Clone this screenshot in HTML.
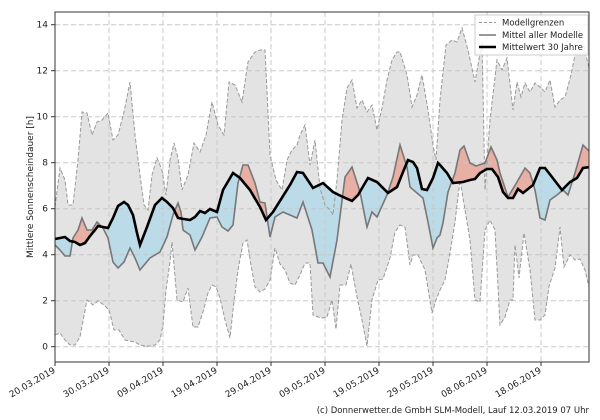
<!DOCTYPE html><html><head><meta charset="utf-8"><style>body{margin:0;background:#fff}svg{display:block;font-family:"DejaVu Sans","Liberation Sans",sans-serif}</style></head><body>
<svg id="s" width="600" height="420" viewBox="0 0 600 420" xmlns="http://www.w3.org/2000/svg">
<defs>
<clipPath id="plot"><rect x="55" y="12" width="534" height="350"/></clipPath>
<clipPath id="aboveClim"><path id="cA"/></clipPath>
<clipPath id="aboveMean"><path id="mA"/></clipPath>
</defs>
<g clip-path="url(#plot)">
<path id="band" fill="#e3e3e3"/>
<path id="red" fill="#e8b0a4" clip-path="url(#aboveClim)"/>
<path id="blue" fill="#bcdbe8" clip-path="url(#aboveMean)"/>
<g id="grid" stroke="#c8c8c8" stroke-dasharray="5,3" stroke-width="1"></g>
<path id="up" fill="none" stroke="#999" stroke-dasharray="4,2" stroke-width="1"/>
<path id="lo" fill="none" stroke="#999" stroke-dasharray="4,2" stroke-width="1"/>
<path id="mean" fill="none" stroke="#777" stroke-width="1.6"/>
<path id="clim" fill="none" stroke="#000" stroke-width="2.6"/>
</g>
<rect x="55" y="12" width="534" height="350" fill="none" stroke="#333" stroke-width="1"/>
<g id="ticks" font-size="9" fill="#222"></g>
<text transform="translate(33,187) rotate(-90)" font-size="9" text-anchor="middle" fill="#222">Mittlere Sonnenscheindauer [h]</text>
<g font-size="8.5" fill="#222">
<rect x="475" y="15" width="113" height="40" fill="#fff" fill-opacity="0.85" stroke="#ccc"/>
<line x1="479" y1="22.5" x2="496" y2="22.5" stroke="#999" stroke-dasharray="3,2"/>
<text x="502" y="25.5">Modellgrenzen</text>
<line x1="479" y1="35" x2="496" y2="35" stroke="#777" stroke-width="1.6"/>
<text x="502" y="38">Mittel aller Modelle</text>
<line x1="479" y1="47" x2="496" y2="47" stroke="#000" stroke-width="2.6"/>
<text x="502" y="50">Mittelwert 30 Jahre</text>
</g>
<text x="589" y="413" font-size="8.5" text-anchor="end" fill="#222">(c) Donnerwetter.de GmbH SLM-Modell, Lauf 12.03.2019 07 Uhr</text>
</svg>
<script>
function P(a){const r=[];for(let i=0;i<a.length;i+=2)r.push([a[i],a[i+1]]);return r}
const up=P([55,207,60,168,65,180,68,205,73,205,78,160,82,112,87,113,92,135,97,122,102,120,108,113,113,140,118,135,124,112,130,82,135,135,140,175,144,205,148,210,152,175,157,158,162,170,166,195,170,160,174,143,178,158,182,190,188,175,194,143,200,152,206,135,212,102,218,125,224,135,229,82,235,85,242,102,248,62,255,52,260,50,265,50,270,155,276,180,282,190,287,160,292,150,297,145,300,135,305,125,310,165,315,140,320,188,325,205,330,210,333,215,337,180,342,120,347,88,352,80,357,108,362,100,367,112,372,105,377,130,382,108,387,80,392,60,397,52,400,52,407,75,412,107,417,95,422,75,428,110,433,145,436,160,440,100,446,45,452,40,457,42,462,28,468,50,475,82,482,42,485,190,490,120,497,60,502,70,507,58,513,110,517,82,521,97,525,83,530,92,535,83,540,87,545,92,550,80,555,107,560,100,565,97,571,75,580,30,589,68]);
const lo=P([55,335,60,333,65,340,70,345,75,345,80,337,87,300,93,305,98,301,104,305,109,310,114,330,119,330,125,340,130,341,135,342,140,345,145,346,150,346,155,345,160,340,163,325,166,290,170,262,172,242,177,300,183,302,188,288,193,327,198,327,203,312,208,293,212,285,216,287,220,298,225,320,230,338,233,310,238,270,243,243,247,240,251,265,255,287,260,292,265,289,270,280,275,248,280,264,285,270,290,283,295,285,300,275,305,263,310,263,313,315,318,317,322,318,327,317,332,300,336,329,340,285,346,285,351,264,357,297,362,320,367,346,372,300,378,280,383,279,390,258,395,232,400,225,405,227,410,265,413,255,418,255,425,270,432,313,436,300,440,290,445,280,450,253,455,222,460,180,465,210,470,240,475,300,480,302,485,230,490,220,495,230,500,325,505,317,510,300,513,300,515,245,519,278,524,233,530,270,535,320,540,320,545,315,549,286,555,268,560,227,564,267,570,255,575,260,580,259,585,270,589,287]);
const mean=P([55,245,60,250,65,256,70,256,73,238,78,230,82,218,87,230,92,230,97,222,103,228,108,238,113,262,118,268,124,262,130,248,135,258,140,270,150,258,160,252,167,237,173,215,178,203,181,212,183,230,190,235,195,250,202,237,210,218,217,217,222,227,228,231,233,225,238,183,243,165,248,165,255,183,260,202,265,203,270,237,275,217,283,212,290,215,297,218,303,202,312,230,318,263,323,263,330,277,337,240,345,177,352,167,360,192,367,227,372,212,377,217,387,195,393,177,400,145,407,167,410,187,417,193,423,198,428,222,433,248,437,238,440,235,443,223,448,192,455,173,460,150,464,146,470,163,476,166,485,163,491,147,497,160,500,173,508,197,517,182,525,168,530,173,535,190,540,218,545,220,550,200,557,195,563,190,568,195,575,173,583,145,590,152]);
const clim=P([55,239,60,238,65,237,70,241,75,242,80,245,85,243,90,236,95,230,98,226,103,227,108,228,113,218,118,206,124,202,128,205,133,215,137,233,140,245,147,227,155,205,162,198,167,202,173,208,178,218,190,220,195,217,200,211,205,213,210,209,217,212,223,190,233,173,240,178,250,190,260,207,266,220,273,212,290,185,297,172,303,173,313,188,323,183,333,192,343,197,352,201,358,195,368,178,377,182,388,193,397,187,403,172,408,160,413,162,417,168,422,189,427,190,433,178,438,163,440,165,447,173,453,183,463,182,470,180,475,179,480,173,487,169,492,169,498,177,503,192,508,198,513,198,518,189,523,193,533,185,540,168,545,168,552,177,562,190,570,182,577,178,583,168,590,167]);
const L=a=>a.map((p,i)=>(i?'L':'M')+p[0]+','+p[1]).join('');
const R=a=>a.slice().reverse().map(p=>'L'+p[0]+','+p[1]).join('');
const $=id=>document.getElementById(id);
$('band').setAttribute('d',L(up)+R(lo)+'Z');
$('up').setAttribute('d',L(up));$('lo').setAttribute('d',L(lo));
$('mean').setAttribute('d',L(mean));$('clim').setAttribute('d',L(clim));
$('cA').setAttribute('d',L(clim)+'L595,0L50,0Z');
$('mA').setAttribute('d',L(mean)+'L595,0L50,0Z');
$('red').setAttribute('d',L(mean)+'L590,400L55,400Z');
$('blue').setAttribute('d',L(clim)+'L590,400L55,400Z');
const ns='http://www.w3.org/2000/svg';
function el(t,a,par,txt){const e=document.createElementNS(ns,t);for(const k in a)e.setAttribute(k,a[k]);if(txt)e.textContent=txt;par.appendChild(e);return e}
const g=$('grid'),tk=$('ticks');
for(let v=0;v<=14;v+=2){const y=346.7-23.0*v;el('line',{x1:55,x2:589,y1:y,y2:y},g);el('line',{x1:51,x2:55,y1:y,y2:y,stroke:'#333'},tk);el('text',{x:48,y:y+3,'text-anchor':'end'},tk,String(v))}
const dates=['20.03.2019','30.03.2019','09.04.2019','19.04.2019','29.04.2019','09.05.2019','19.05.2019','29.05.2019','08.06.2019','18.06.2019'];
dates.forEach((d,i)=>{const x=55+54*i;el('line',{x1:x,x2:x,y1:12,y2:362},g);el('line',{x1:x,x2:x,y1:362,y2:366,stroke:'#333'},tk);el('text',{transform:`translate(${x+1},${372}) rotate(-30)`,'text-anchor':'end'},tk,d)});
</script>
</body></html>
